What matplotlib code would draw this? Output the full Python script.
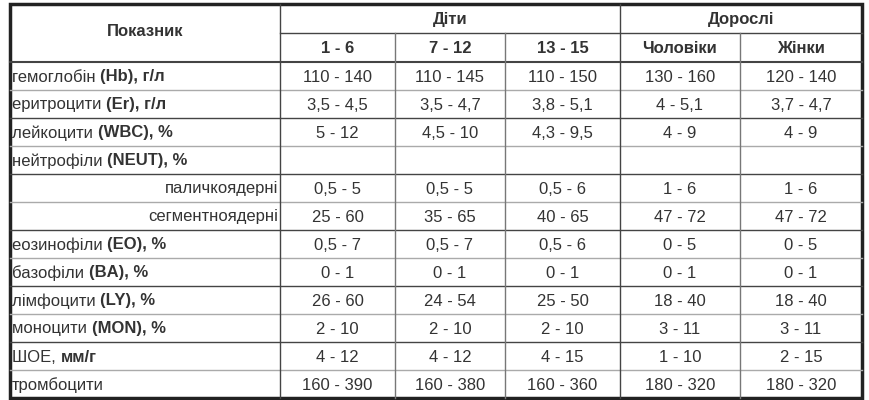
import matplotlib
matplotlib.use("Agg")
import matplotlib.pyplot as plt

groups = ["Діти", "Дорослі"]
subcols = ["1 - 6", "7 - 12", "13 - 15", "Чоловіки", "Жінки"]
labels_norm = ["гемоглобін ", "еритроцити ", "лейкоцити ", "нейтрофіли ", "паличкоядерні", "сегментноядерні",
               "еозинофіли ", "базофіли ", "лімфоцити ", "моноцити ", "ШОЕ, ", "тромбоцити"]
labels_bold = ["(Hb), г/л", "(Er), г/л", "(WBC), %", "(NEUT), %", "", "", "(EO), %", "(BA), %",
               "(LY), %", "(MON), %", "мм/г", ""]
indent = [False, False, False, False, True, True, False, False, False, False, False, False]
values = [
    ["110 - 140", "110 - 145", "110 - 150", "130 - 160", "120 - 140"],
    ["3,5 - 4,5", "3,5 - 4,7", "3,8 - 5,1", "4 - 5,1", "3,7 - 4,7"],
    ["5 - 12", "4,5 - 10", "4,3 - 9,5", "4 - 9", "4 - 9"],
    ["", "", "", "", ""],
    ["0,5 - 5", "0,5 - 5", "0,5 - 6", "1 - 6", "1 - 6"],
    ["25 - 60", "35 - 65", "40 - 65", "47 - 72", "47 - 72"],
    ["0,5 - 7", "0,5 - 7", "0,5 - 6", "0 - 5", "0 - 5"],
    ["0 - 1", "0 - 1", "0 - 1", "0 - 1", "0 - 1"],
    ["26 - 60", "24 - 54", "25 - 50", "18 - 40", "18 - 40"],
    ["2 - 10", "2 - 10", "2 - 10", "3 - 11", "3 - 11"],
    ["4 - 12", "4 - 12", "4 - 15", "1 - 10", "2 - 15"],
    ["160 - 390", "160 - 380", "160 - 360", "180 - 320", "180 - 320"],
]

plt.rcParams['font.family'] = ['Liberation Sans', 'DejaVu Sans']
fig = plt.figure(figsize=(8.7, 4), dpi=100)
ax = fig.add_axes([0, 0, 1, 1])
ax.set_xlim(0, 870); ax.set_ylim(400, 0); ax.axis('off')

xs = [10, 280, 395, 505, 620, 740, 862]
top, h1, h2 = 4, 33, 62
rh = (398 - h2) / len(values)
ys = [h2 + i * rh for i in range(len(values) + 1)]
fs = 12
col = '#333333'
dark = '#444444'; light = '#aaaaaa'

ax.plot([xs[1], xs[-1]], [h1, h1], color=dark, lw=1)
ax.plot([xs[0], xs[-1]], [h2, h2], color=dark, lw=1.5)
for i, y in enumerate(ys[1:-1]):
    c = dark if i % 2 == 1 else light
    ax.plot([xs[0], xs[-1]], [y, y], color=c, lw=1)
for i, x in enumerate(xs[1:-1], start=1):
    y0 = top if i in (1, 4) else h1
    ax.plot([x, x], [y0, 398], color=dark if i in (1, 4) else '#777777', lw=1)
ax.add_patch(plt.Rectangle((xs[0], top), xs[-1] - xs[0], 398 - top, fill=False, ec='#222222', lw=2.5))

ax.text((xs[0] + xs[1]) / 2, 31, "Показник", ha='center', va='center', fontsize=fs, weight='bold', color=col)
ax.text((xs[1] + xs[4]) / 2, (top + h1) / 2 + 1, groups[0], ha='center', va='center', fontsize=fs, weight='bold', color=col)
ax.text((xs[4] + xs[6]) / 2, (top + h1) / 2 + 1, groups[1], ha='center', va='center', fontsize=fs, weight='bold', color=col)
for j, s in enumerate(subcols):
    ax.text((xs[j + 1] + xs[j + 2]) / 2, (h1 + h2) / 2 + 1, s, ha='center', va='center', fontsize=fs, weight='bold', color=col)

fig.canvas.draw()
r = fig.canvas.get_renderer()
for i in range(len(values)):
    yc = (ys[i] + ys[i + 1]) / 2 + 1
    if indent[i]:
        ax.text(xs[1] - 2, yc, labels_norm[i], ha='right', va='center', fontsize=fs, color=col)
    else:
        t = ax.text(xs[0] + 2, yc, labels_norm[i], ha='left', va='center', fontsize=fs, color=col)
        if labels_bold[i]:
            bb = t.get_window_extent(r)
            x1 = ax.transData.inverted().transform((bb.x1, bb.y0))[0]
            ax.text(x1, yc, labels_bold[i], ha='left', va='center', fontsize=fs, weight='bold', color=col)
    for j, v in enumerate(values[i]):
        ax.text((xs[j + 1] + xs[j + 2]) / 2, yc, v, ha='center', va='center', fontsize=fs, color=col)

fig.savefig("out.png", dpi=100)
